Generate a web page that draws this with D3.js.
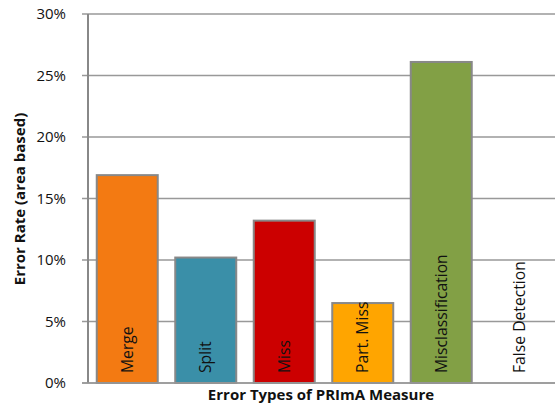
<!DOCTYPE html>
<html>
<head>
<meta charset="utf-8">
<script src="https://cdn.jsdelivr.net/npm/d3@7/dist/d3.min.js"></script>
<style>
  body { margin: 0; background: #fff; }
  svg text { font-family: "Open Sans", "DejaVu Sans", sans-serif; fill: #111; }
</style>
</head>
<body>
<svg id="chart" width="555" height="404"></svg>
<script>
/* PRImA error types — bar chart with in-bar vertical labels */

const categories = ["Merge", "Split", "Miss", "Part. Miss", "Misclassification", "False Detection"];
const errorRates = [0.169, 0.102, 0.132, 0.065, 0.261, 0];
const barColors = ["#f37a12", "#3a8fa8", "#cc0000", "#ffa500", "#82a045", "#ffffff"];
const yTicks = [0, 0.05, 0.10, 0.15, 0.20, 0.25, 0.30];

const svg = d3.select("#chart");
const plotLeft = 88, plotRight = 559, plotTop = 14, plotBottom = 383;

const x = d3.scaleBand().domain(categories).range([plotLeft, plotRight]).paddingInner(0.223).paddingOuter(0.1115);
const y = d3.scaleLinear().domain([0, 0.3]).range([plotBottom, plotTop]);

// grid + ticks
const grid = svg.append("g");
yTicks.forEach((t) => {
  grid.append("line")
    .attr("x1", plotLeft - 6).attr("x2", 555)
    .attr("y1", y(t)).attr("y2", y(t))
    .attr("stroke", "#999").attr("stroke-width", 1.6);
});

const yAxis = d3.axisLeft(y).tickValues(yTicks).tickFormat(d3.format(".0%")).tickSize(0).tickPadding(22);
const ya = svg.append("g").attr("transform", `translate(${plotLeft},0)`).call(yAxis);
ya.select(".domain").remove();
ya.selectAll("text").style("font-size", "15px").attr("fill", "#111");

svg.append("line")
  .attr("x1", plotLeft).attr("x2", plotLeft).attr("y1", plotTop).attr("y2", plotBottom)
  .attr("stroke", "#888").attr("stroke-width", 2);

// bars
svg.append("g").selectAll("rect")
  .data(categories)
  .join("rect")
  .attr("x", (d) => x(d))
  .attr("width", x.bandwidth())
  .attr("y", (d, i) => y(errorRates[i]))
  .attr("height", (d, i) => plotBottom - y(errorRates[i]))
  .attr("fill", (d, i) => barColors[i])
  .attr("stroke", (d, i) => (errorRates[i] > 0 ? "#888" : "none"))
  .attr("stroke-width", 2);

// baseline on top of bars
svg.append("line")
  .attr("x1", plotLeft - 6).attr("x2", 555).attr("y1", plotBottom).attr("y2", plotBottom)
  .attr("stroke", "#999").attr("stroke-width", 1.6);

// vertical labels inside bars
svg.append("g").selectAll("text")
  .data(categories)
  .join("text")
  .attr("transform", (d) => `translate(${x(d) + x.bandwidth() / 2 + 5.5},${plotBottom - 10}) rotate(-90)`)
  .attr("text-anchor", "start")
  .style("font-size", "15.7px")
  .text((d) => d);

// axis titles
svg.append("text")
  .attr("transform", `translate(25,199) rotate(-90)`)
  .attr("text-anchor", "middle")
  .style("font-size", "15px").style("font-weight", "bold")
  .text("Error Rate (area based)");

svg.append("text")
  .attr("x", 321).attr("y", 400)
  .attr("text-anchor", "middle")
  .style("font-size", "15px").style("font-weight", "bold")
  .text("Error Types of PRImA Measure");
</script>
</body>
</html>
